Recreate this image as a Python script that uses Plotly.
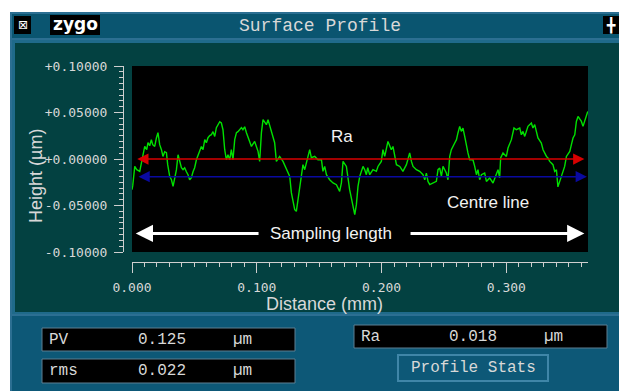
import plotly.graph_objects as go

# ---------------- data ----------------
distance_mm = [0.0000, 0.0006, 0.0022, 0.0038, 0.0062, 0.0078, 0.0102, 0.0118, 0.0128, 0.0142,
               0.0155, 0.0166, 0.0182, 0.0196, 0.0208, 0.0222, 0.0236, 0.0248, 0.0262, 0.0276,
               0.0286, 0.0302, 0.0316, 0.0329, 0.0342, 0.0356, 0.0369, 0.0382, 0.0396, 0.0409,
               0.0422, 0.0436, 0.0449, 0.0462, 0.0476, 0.0489, 0.0502, 0.0516, 0.0529, 0.0542,
               0.0556, 0.0569, 0.0583, 0.0596, 0.0609, 0.0623, 0.0636, 0.0649, 0.0663, 0.0676,
               0.0689, 0.0703, 0.0716, 0.0729, 0.0743, 0.0756, 0.0769, 0.0783, 0.0796, 0.0809,
               0.0823, 0.0837, 0.0849, 0.0863, 0.0877, 0.0889, 0.0903, 0.0917, 0.0929, 0.0943,
               0.0957, 0.0983, 0.1010, 0.1023, 0.1037, 0.1050, 0.1077, 0.1090, 0.1117, 0.1143,
               0.1157, 0.1183, 0.1210, 0.1237, 0.1264, 0.1277, 0.1290, 0.1304, 0.1317, 0.1330,
               0.1357, 0.1370, 0.1384, 0.1410, 0.1424, 0.1437, 0.1464, 0.1490, 0.1518, 0.1530,
               0.1544, 0.1558, 0.1584, 0.1611, 0.1638, 0.1664, 0.1678, 0.1691, 0.1718, 0.1744,
               0.1771, 0.1785, 0.1798, 0.1811, 0.1825, 0.1851, 0.1865, 0.1878, 0.1889, 0.1905,
               0.1931, 0.1958, 0.1971, 0.1998, 0.2011, 0.2025, 0.2051, 0.2065, 0.2078, 0.2091,
               0.2105, 0.2119, 0.2146, 0.2171, 0.2199, 0.2225, 0.2239, 0.2252, 0.2279, 0.2305,
               0.2332, 0.2346, 0.2359, 0.2372, 0.2386, 0.2412, 0.2439, 0.2452, 0.2466, 0.2479,
               0.2492, 0.2519, 0.2532, 0.2546, 0.2559, 0.2586, 0.2600, 0.2612, 0.2626, 0.2639,
               0.2652, 0.2666, 0.2679, 0.2692, 0.2706, 0.2732, 0.2746, 0.2760, 0.2772, 0.2786,
               0.2800, 0.2826, 0.2840, 0.2866, 0.2893, 0.2907, 0.2920, 0.2933, 0.2946, 0.2954,
               0.2973, 0.3000, 0.3013, 0.3040, 0.3061, 0.3080, 0.3107, 0.3120, 0.3133, 0.3147,
               0.3160, 0.3173, 0.3200, 0.3213, 0.3227, 0.3240, 0.3253, 0.3280, 0.3294, 0.3321,
               0.3333, 0.3347, 0.3373, 0.3387, 0.3401, 0.3413, 0.3427, 0.3441, 0.3467, 0.3481,
               0.3508, 0.3521, 0.3534, 0.3548, 0.3561, 0.3574, 0.3601, 0.3614, 0.3627, 0.3641,
               0.3652]
height_um = [-0.0330, -0.0287, -0.0080, -0.0115, -0.0133, -0.0008, 0.0135, 0.0100, 0.0175, 0.0143,
             0.0208, 0.0154, 0.0135, 0.0229, 0.0283, 0.0154, 0.0100, 0.0028, 0.0078, 0.0068,
             -0.0061, -0.0187, -0.0223, -0.0295, -0.0201, -0.0115, 0.0046, -0.0029, -0.0094, -0.0115,
             -0.0094, -0.0137, -0.0169, -0.0223, -0.0201, -0.0137, -0.0094, -0.0008, 0.0046, 0.0100,
             0.0135, 0.0100, 0.0208, 0.0175, 0.0229, 0.0251, 0.0261, 0.0294, 0.0243, 0.0337,
             0.0369, 0.0401, 0.0387, 0.0315, 0.0100, -0.0008, 0.0046, -0.0008, 0.0100, -0.0008,
             0.0208, 0.0283, 0.0294, 0.0315, 0.0337, 0.0315, 0.0347, 0.0283, 0.0240, 0.0186,
             0.0135, 0.0189, 0.0082, -0.0026, 0.0283, 0.0423, 0.0369, 0.0423, 0.0283, 0.0175,
             -0.0026, 0.0028, -0.0026, -0.0115, -0.0187, -0.0362, -0.0470, -0.0545, -0.0563, -0.0438,
             -0.0223, -0.0061, -0.0115, 0.0028, 0.0100, 0.0014, 0.0028, -0.0008, -0.0008, -0.0133,
             -0.0080, -0.0169, -0.0223, -0.0258, -0.0276, -0.0348, -0.0258, -0.0026, -0.0080, -0.0330,
             -0.0510, -0.0599, -0.0491, -0.0295, -0.0187, -0.0080, -0.0115, -0.0169, -0.0094, -0.0169,
             -0.0115, -0.0133, -0.0080, -0.0026, 0.0100, 0.0028, 0.0189, 0.0135, 0.0100, 0.0135,
             0.0046, -0.0061, -0.0080, -0.0133, -0.0061, 0.0065, -0.0026, -0.0080, -0.0115, -0.0133,
             -0.0169, -0.0223, -0.0151, -0.0241, -0.0276, -0.0258, -0.0241, -0.0115, -0.0097, -0.0187,
             -0.0080, -0.0151, -0.0223, 0.0028, 0.0100, 0.0172, 0.0208, 0.0280, 0.0351, 0.0297,
             0.0333, 0.0243, 0.0135, 0.0065, -0.0008, -0.0008, -0.0080, -0.0169, -0.0115, -0.0223,
             -0.0169, -0.0151, -0.0241, -0.0204, -0.0258, -0.0204, -0.0151, -0.0115, -0.0204, 0.0011,
             0.0065, 0.0028, 0.0118, 0.0208, 0.0333, 0.0315, 0.0333, 0.0261, 0.0297, 0.0243,
             0.0297, 0.0351, 0.0387, 0.0333, 0.0369, 0.0297, 0.0226, 0.0172, 0.0100, 0.0028,
             0.0011, -0.0026, -0.0061, -0.0133, -0.0115, -0.0300, -0.0241, -0.0187, -0.0080, 0.0028,
             0.0082, 0.0154, 0.0226, 0.0261, 0.0404, 0.0458, 0.0404, 0.0351, 0.0404, 0.0444,
             0.0512]

x_range = [0.0, 0.3654]
y_range = [-0.1, 0.1]
x_tick_vals = [0.0, 0.1, 0.2, 0.3]
x_tick_text = ["0.000", "0.100", "0.200", "0.300"]
y_tick_vals = [0.1, 0.05, 0.0, -0.05, -0.1]
y_tick_text = ["+0.10000", "+0.05000", "+0.00000", "-0.05000", "-0.10000"]

ra_level = 0.0
centre_level = -0.019
sampling_y = -0.080

stat_names = ["PV", "rms", "Ra"]
stat_values = ["0.125", "0.022", "0.018"]
stat_unit = "µm"

# ---------------- geometry helpers ----------------
W, H = 619, 391
def px(x):
    return x / W
def py(y):
    return 1 - y / H

def rect(x0, y0, x1, y1, fill, line=None, lw=0):
    return dict(type="rect", xref="paper", yref="paper", layer="below",
                x0=px(x0), x1=px(x1), y0=py(y1), y1=py(y0),
                fillcolor=fill, line=dict(color=line or fill, width=lw))

FRAME = "#2c6f92"
TITLEBAR = "#0a5570"
PANEL = "#034141"
BOTTOM = "#0d5877"
TXT = "#d8d8d8"
MONO = "Liberation Mono"
SANS = "Liberation Sans, Arial, sans-serif"

shapes = [
    rect(10, 12, 619, 391, FRAME),
    rect(12, 14, 619, 38, TITLEBAR),
    rect(12, 40, 619, 314, "#1f6a8a"),
    rect(15, 43, 619, 312, PANEL),
    rect(12, 316, 619, 391, BOTTOM),
    rect(14, 16, 31, 34, "#000000"),
    rect(50, 15, 100, 35, "#000000"),
    rect(603, 16, 619, 34, "#000000"),
    rect(132, 66, 588, 252, "#000000"),
    rect(42, 328, 295, 351, "#000000", "#5d7f92", 1),
    rect(42, 359, 295, 383, "#000000", "#5d7f92", 1),
    rect(354, 325, 607, 348, "#000000", "#5d7f92", 1),
    rect(398, 355, 548, 381, BOTTOM, "#3f86a8", 2),
]

fig = go.Figure()
fig.add_trace(go.Scatter(x=distance_mm, y=height_um, mode="lines",
                         line=dict(color="#00e000", width=1.4),
                         hoverinfo="skip", showlegend=False))

ann = []
def arrow(x, y, ax, ay, color, width, size, head=2):
    ann.append(dict(x=x, y=y, ax=ax, ay=ay, xref="x", yref="y", axref="x", ayref="y",
                    text="", showarrow=True, arrowhead=head, arrowsize=size,
                    arrowwidth=width, arrowcolor=color))

def arrow2(x0, x1, y, color, width, size):
    ann.append(dict(x=x1, y=y, ax=x0, ay=y, xref="x", yref="y", axref="x", ayref="y",
                    text="", showarrow=True, arrowhead=2, startarrowhead=2,
                    arrowside="end+start", arrowsize=size, startarrowsize=size,
                    arrowwidth=width, arrowcolor=color))

arrow2(0.003, 0.3625, ra_level, "#d80000", 1.5, 1.5)
arrow2(0.004, 0.3645, centre_level, "#0a0aa0", 1.5, 1.5)
arrow(0.003, sampling_y, 0.1026, sampling_y, "#ffffff", 3, 1.15)
arrow(0.3625, sampling_y, 0.2220, sampling_y, "#ffffff", 3, 1.15)

def label(text, x, y, size=17, color="#f2f2f2"):
    ann.append(dict(text=text, x=x, y=y, xref="x", yref="y", showarrow=False,
                    font=dict(family=SANS, size=size, color=color)))

label("Ra", 0.168, 0.0243)
label("Centre line", 0.2853, -0.0467)
label("Sampling length", 0.1592, -0.0805)

def ptext(text, x, y, size, color=TXT, family=MONO, xanchor="left", angle=0):
    ann.append(dict(text=text, x=px(x), y=py(y), xref="paper", yref="paper",
                    showarrow=False, xanchor=xanchor, yanchor="middle",
                    textangle=angle, font=dict(family=family, size=size, color=color)))

ptext("Surface Profile", 320, 26, 18, xanchor="center")
ptext("<b>zygo</b>", 75, 24, 17, color="#ffffff", family="DejaVu Sans", xanchor="center")
ptext("⊠", 22.5, 25, 12, color="#ffffff", family="DejaVu Sans", xanchor="center")
ptext("╋", 611, 25, 14, color="#ffffff", family="DejaVu Sans Mono", xanchor="center")
ptext("Distance (mm)", 324, 304, 18, color=TXT, family=SANS, xanchor="center")
ptext("Height (µm)", 36, 176, 18, color=TXT, family=SANS, xanchor="center", angle=-90)

ptext(stat_names[0], 47, 340, 16)
ptext(stat_values[0], 136, 340, 16)
ptext(stat_unit, 231, 340, 16)
ptext(stat_names[1], 47, 371, 16)
ptext(stat_values[1], 136, 371, 16)
ptext(stat_unit, 231, 371, 16)
ptext(stat_names[2], 359, 337, 16)
ptext(stat_values[2], 447, 337, 16)
ptext(stat_unit, 542, 337, 16)
ptext("Profile Stats", 473, 368, 16, xanchor="center")

axis_color = "#cfcfcf"
fig.update_layout(
    width=W, height=H, margin=dict(l=0, r=0, t=0, b=0, autoexpand=False),
    paper_bgcolor="#ffffff", plot_bgcolor="#000000",
    shapes=shapes, annotations=ann, showlegend=False,
    xaxis=dict(domain=[px(132), px(588)], range=x_range, anchor="free", position=py(262),
               automargin=False,
               showline=True, linecolor=axis_color, linewidth=1,
               ticks="outside", ticklen=10, tickwidth=1, tickcolor=axis_color,
               ticklabelstandoff=3,
               tickmode="array", tickvals=x_tick_vals, ticktext=x_tick_text,
               minor=dict(tickmode="linear", tick0=0, dtick=0.01, ticks="outside",
                          ticklen=4, tickcolor=axis_color, showgrid=False),
               tickfont=dict(family="DejaVu Sans Mono", size=13, color=TXT),
               showgrid=False, zeroline=False, fixedrange=True),
    yaxis=dict(domain=[py(252), py(66)], range=y_range, anchor="free", position=px(123),
               automargin=False,
               showline=True, linecolor=axis_color, linewidth=1,
               ticks="outside", ticklen=9, tickwidth=1, tickcolor=axis_color,
               ticklabelstandoff=4,
               tickmode="array", tickvals=y_tick_vals, ticktext=y_tick_text,
               minor=dict(tickmode="linear", tick0=0, dtick=0.00625, ticks="outside",
                          ticklen=4, tickcolor=axis_color, showgrid=False),
               tickfont=dict(family="DejaVu Sans Mono", size=13, color=TXT),
               showgrid=False, zeroline=False, fixedrange=True),
)

fig.write_html("out.html", config=dict(displayModeBar=False))
